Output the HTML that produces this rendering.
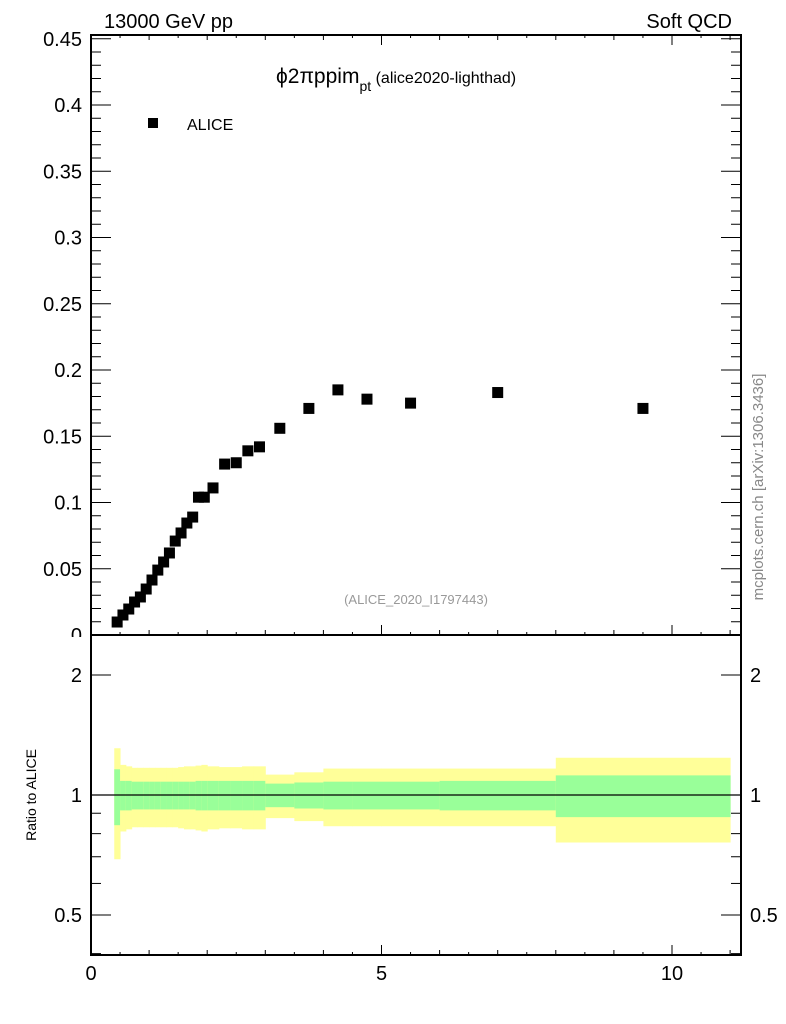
<!DOCTYPE html>
<html><head><meta charset="utf-8"><style>body{margin:0;background:#fff}svg{display:block;font-family:"Liberation Sans",sans-serif}</style></head>
<body>
<svg id="c" width="786" height="1024" xmlns="http://www.w3.org/2000/svg">
<text x="104" y="28" font-size="20">13000 GeV pp</text>
<text x="732" y="28" font-size="20" text-anchor="end">Soft QCD</text>
<text x="276" y="83" font-size="21">ϕ2πppim<tspan font-size="14" dy="8">pt</tspan><tspan font-size="16" dy="-8"> (alice2020-lighthad)</tspan></text>
<rect x="148" y="118" width="10" height="10" fill="#000"/>
<text x="187" y="130" font-size="16">ALICE</text>
<text x="416" y="604" font-size="13" fill="#999" text-anchor="middle">(ALICE_2020_I1797443)</text>
<text transform="translate(763,487) rotate(-90)" font-size="15" fill="#888" text-anchor="middle">mcplots.cern.ch [arXiv:1306.3436]</text>
<text transform="translate(36,795) rotate(-90)" font-size="14" text-anchor="middle">Ratio to ALICE</text>
<g id="bands"></g><g id="axes"></g><g id="pts"></g>
</svg>
<script>
const xs=[0.45,0.55,0.65,0.75,0.85,0.95,1.05,1.15,1.25,1.35,1.45,1.55,1.65,1.75,1.85,1.95,2.1,2.3,2.5,2.7,2.9,3.25,3.75,4.25,4.75,5.5,7,9.5];
const edges=[0.4,0.5,0.6,0.7,0.8,0.9,1.0,1.1,1.2,1.3,1.4,1.5,1.6,1.7,1.8,1.9,2.0,2.2,2.4,2.6,2.8,3.0,3.5,4,4.5,5,6,8,11];
const ys=[0.0098,0.0151,0.0196,0.0249,0.0287,0.0347,0.0415,0.049,0.0551,0.0619,0.0709,0.0770,0.0845,0.0890,0.104,0.104,0.111,0.129,0.130,0.139,0.142,0.156,0.171,0.185,0.178,0.175,0.183,0.171];
const statErr=[0.16,0.085,0.085,0.08,0.08,0.08,0.08,0.08,0.08,0.08,0.08,0.08,0.08,0.08,0.085,0.085,0.085,0.085,0.085,0.085,0.085,0.068,0.075,0.08,0.08,0.08,0.085,0.12];
const totErr=[0.31,0.19,0.18,0.17,0.17,0.17,0.17,0.17,0.17,0.17,0.17,0.175,0.18,0.18,0.185,0.19,0.18,0.175,0.175,0.18,0.18,0.125,0.14,0.165,0.165,0.165,0.165,0.24];
const yTicks=[0,0.05,0.1,0.15,0.2,0.25,0.3,0.35,0.4,0.45];
const yTickLabels=["0","0.05","0.1","0.15","0.2","0.25","0.3","0.35","0.4","0.45"];
const rTicks=[0.5,1,2];const rTickLabels=["0.5","1","2"];
const xTicks=[0,5,10];const xTickLabels=["0","5","10"];
const NS="http://www.w3.org/2000/svg";
const L=91,R=741,T1=35,B1=635,T2=635,B2=955;
const X=v=>L+v*58.1;
const Y=v=>635-v*1325;
const RY=v=>795-Math.log2(v)*120;
function mk(tag,at,parent){const e=document.createElementNS(NS,tag);for(const k in at)e.setAttribute(k,at[k]);document.getElementById(parent).appendChild(e);return e;}
for(let i=0;i<xs.length;i++){
 const x0=X(edges[i]),x1=X(edges[i+1]);
 let e=mk('rect',{x:x0,y:RY(1+totErr[i]),width:x1-x0+0.5,height:RY(1-totErr[i])-RY(1+totErr[i]),fill:'#ffff99'},'bands');
 
 
 e=mk('rect',{x:x0,y:RY(1+statErr[i]),width:x1-x0+0.5,height:RY(1-statErr[i])-RY(1+statErr[i]),fill:'#99ff99'},'bands');
 
 
 const p=mk('rect',{x:X(xs[i])-5.5,y:Y(ys[i])-5.5,width:11,height:11,fill:'#000'},'pts');
 
 
}
let f=mk('rect',{x:L,y:T1,width:R-L,height:B1-T1,fill:'none',stroke:'#000','stroke-width':2},'axes');


f=mk('rect',{x:L,y:T2,width:R-L,height:B2-T2,fill:'none',stroke:'#000','stroke-width':2},'axes');


let ln=mk('line',{x1:L,x2:R,y1:RY(1),y2:RY(1),stroke:'#000','stroke-width':1.2},'axes');


for(let v=0;v<=0.455;v+=0.01){const big=Math.abs(v/0.05-Math.round(v/0.05))<1e-6;const w=big?20:10;
 mk('line',{x1:L,x2:L+w,y1:Y(v),y2:Y(v),stroke:'#000'},'axes');mk('line',{x1:R-w,x2:R,y1:Y(v),y2:Y(v),stroke:'#000'},'axes');}
yTicks.forEach((v,i)=>{const t=mk('text',{x:82,y:Y(v)+7,'font-size':20,'text-anchor':'end'},'axes');t.textContent=yTickLabels[i];
 
 });
mk('rect',{x:20,y:637,width:69,height:20,fill:'#fff'},'axes');
[0.4,0.5,0.6,0.7,0.8,0.9,1,2].forEach(v=>{const w=(v==0.5||v==1||v==2)?20:10;
 mk('line',{x1:L,x2:L+w,y1:RY(v),y2:RY(v),stroke:'#000'},'axes');mk('line',{x1:R-w,x2:R,y1:RY(v),y2:RY(v),stroke:'#000'},'axes');});
rTicks.forEach((v,i)=>{let t=mk('text',{x:82,y:RY(v)+7,'font-size':20,'text-anchor':'end'},'axes');t.textContent=rTickLabels[i];
 
 
 t=mk('text',{x:750,y:RY(v)+7,'font-size':20},'axes');t.textContent=rTickLabels[i];
 
 });
for(let k=0;k<=22;k++){const v=k*0.5;const w=(k%10==0)?10:(k%2==0?5:3);
 mk('line',{x1:X(v),x2:X(v),y1:B1,y2:B1-w,stroke:'#000'},'axes');mk('line',{x1:X(v),x2:X(v),y1:T1,y2:T1+w,stroke:'#000'},'axes');
 mk('line',{x1:X(v),x2:X(v),y1:B2,y2:B2-w,stroke:'#000'},'axes');}
xTicks.forEach((v,i)=>{const t=mk('text',{x:X(v),y:980,'font-size':20,'text-anchor':'middle'},'axes');t.textContent=xTickLabels[i];
 
 });
</script>
</body></html>
